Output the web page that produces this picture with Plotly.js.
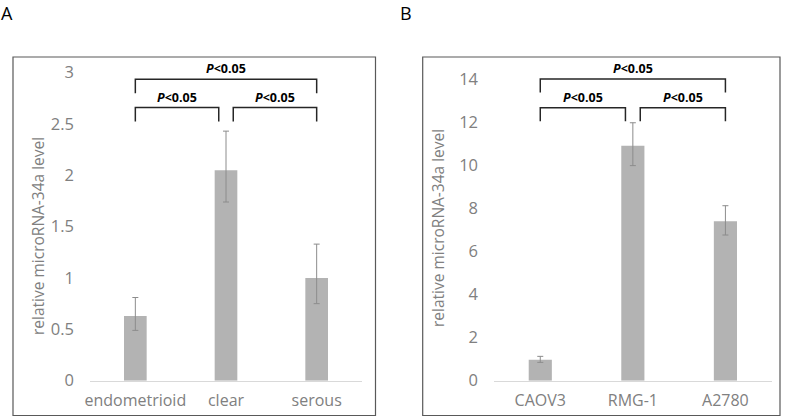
<!DOCTYPE html>
<html><head><meta charset="utf-8">
<script src="https://cdn.plot.ly/plotly-3.0.1.min.js"></script>
<style>html,body{margin:0;padding:0;background:#fff}#c{width:787px;height:417px}</style>
</head><body><div id="c"></div>
<script>
// Panel A data
const catsA = ['endometrioid', 'clear', 'serous'];
const valsA = [0.63, 2.05, 1.00];
const errPlusA = [0.18, 0.38, 0.33];
const errMinusA = [0.14, 0.31, 0.25];
// Panel B data
const catsB = ['CAOV3', 'RMG-1', 'A2780'];
const valsB = [0.97, 10.9, 7.4];
const errPlusB = [0.16, 1.07, 0.72];
const errMinusB = [0.12, 0.92, 0.64];
const sigLabel = '<b><i>P</i>&lt;0.05</b>';
const yTitle = 'relative microRNA-34a level';

const W = 787, H = 417;
const px = v => v / W, py = v => 1 - v / H;
const FONT = 'Open Sans, sans-serif';
const GRAY = '#808080';
const BAR = '#b3b3b3';
const ERR = '#8c8c8c';

function barTrace(cats, vals, ep, em, xa, ya) {
  return {type: 'bar', x: cats, y: vals, xaxis: xa, yaxis: ya,
    marker: {color: BAR}, width: 0.25,
    error_y: {type: 'data', symmetric: false, array: ep, arrayminus: em,
      color: ERR, thickness: 1, width: 3},
    hoverinfo: 'none', showlegend: false};
}

const yDom = [py(380.7), py(57)];
function yAxis(range, dtick, anchor) {
  return {domain: yDom, range: range, dtick: dtick, anchor: anchor,
    showgrid: false, zeroline: false, showline: false, ticks: '',
    ticklabelstandoff: 15,
    tickfont: {family: FONT, size: 16.5, color: GRAY}, fixedrange: true};
}
function xAxis(d0, d1, anchor) {
  return {domain: [px(d0), px(d1)], range: [-0.5, 2.5], anchor: anchor,
    type: 'category', showgrid: false, zeroline: false, showline: true,
    linecolor: '#d9d9d9', linewidth: 1, ticks: '', ticklabelstandoff: 5,
    tickfont: {family: FONT, size: 16, color: GRAY}, fixedrange: true};
}

const shapes = [];
const annotations = [];
function brackets(xr, yr, unit, topY, lowY) {
  const tick = 0.135 * unit;
  const lines = [[0, 2, topY], [0, 0.92, lowY], [1.08, 2, lowY]];
  lines.forEach(([a, b, y]) => {
    shapes.push({type: 'path', xref: xr, yref: yr,
      path: `M ${a},${y - tick} L ${a},${y} L ${b},${y} L ${b},${y - tick}`,
      line: {color: '#262626', width: 1.5}});
    annotations.push({xref: xr, yref: yr, x: (a + b) / 2, y: y, xanchor: 'center', yanchor: 'bottom',
      yshift: 0, text: sigLabel, showarrow: false,
      font: {family: FONT, size: 12.5, color: '#000'}});
  });
}
brackets('x', 'y', 1, 2.935, 2.66);
brackets('x2', 'y2', 4.67, 14.0, 12.67);

// frames
[[13, 375.5], [422.7, 780]].forEach(([a, b]) => shapes.push({type: 'rect', xref: 'paper', yref: 'paper',
  x0: px(a), x1: px(b), y0: py(415.5), y1: py(57), line: {color: '#595959', width: 1.2}}));

// panel labels
annotations.push({xref: 'paper', yref: 'paper', x: px(7), y: py(0.5), xanchor: 'center', yanchor: 'top',
  borderpad: 0, text: 'A', showarrow: false, font: {family: FONT, size: 18, color: '#000'}});
annotations.push({xref: 'paper', yref: 'paper', x: px(406.5), y: py(0), xanchor: 'center', yanchor: 'top',
  borderpad: 0, text: 'B', showarrow: false, font: {family: FONT, size: 18, color: '#000'}});
// y titles
annotations.push({xref: 'paper', yref: 'paper', x: px(38), y: py(236), xanchor: 'center', yanchor: 'middle',
  text: yTitle, textangle: -90, showarrow: false, font: {family: FONT, size: 15.5, color: GRAY}});
annotations.push({xref: 'paper', yref: 'paper', x: px(438), y: py(228), xanchor: 'center', yanchor: 'middle',
  text: yTitle, textangle: -90, showarrow: false, font: {family: FONT, size: 15.5, color: GRAY}});

const data = [
  barTrace(catsA, valsA, errPlusA, errMinusA, 'x', 'y'),
  barTrace(catsB, valsB, errPlusB, errMinusB, 'x2', 'y2')
];
const layout = {
  width: W, height: H, margin: {l: 0, r: 0, t: 0, b: 0},
  paper_bgcolor: '#fff', plot_bgcolor: 'rgba(0,0,0,0)',
  xaxis: xAxis(90, 362, 'y'),
  yaxis: yAxis([0, (380.7 - 57) / 102.7], 0.5, 'x'),
  xaxis2: xAxis(494, 771.7, 'y2'),
  yaxis2: yAxis([0, (380.7 - 57) / 21.55], 2, 'x2'),
  shapes: shapes, annotations: annotations, showlegend: false
};
Plotly.newPlot('c', data, layout, {staticPlot: true});
</script></body></html>
